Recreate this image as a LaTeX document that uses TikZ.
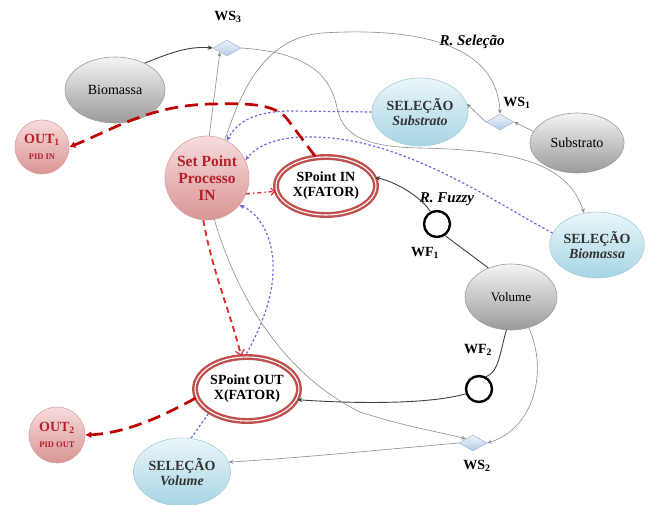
\documentclass[tikz,border=0pt]{standalone}
\usepackage{fontspec}
\setmainfont{Liberation Serif}
\usetikzlibrary{shapes.geometric,arrows.meta,backgrounds}
\definecolor{spred}{HTML}{C0504D}
\definecolor{darkred}{HTML}{B3202A}
\definecolor{pinktop}{HTML}{F7DCDC}
\definecolor{pinkbot}{HTML}{D99494}
\definecolor{pinkdraw}{HTML}{D9A3A3}
\definecolor{bluetop}{HTML}{EAF6FA}
\definecolor{bluebot}{HTML}{A6D5E4}
\definecolor{bluedraw}{HTML}{A9CCD9}
\definecolor{graytop}{HTML}{F4F4F4}
\definecolor{graybot}{HTML}{9A9A9A}
\definecolor{graydraw}{HTML}{9C9C9C}
\definecolor{dmtop}{HTML}{EEF3FA}
\definecolor{dmbot}{HTML}{B4CBE6}
\definecolor{dmdraw}{HTML}{A0B8D4}
\definecolor{bluedash}{HTML}{6B6BE0}
\definecolor{reddash}{HTML}{C00000}
\definecolor{redmid}{HTML}{E02828}
\begin{document}
\begin{tikzpicture}[x=1pt,y=-1pt,
  grayell/.style={ellipse, draw=graydraw, line width=0.6pt, top color=graytop, bottom color=graybot, inner sep=0pt, font=\fontsize{14}{16}\selectfont},
  blueell/.style={ellipse, draw=bluedraw, line width=0.6pt, top color=bluetop, bottom color=bluebot, inner sep=0pt, align=center, text=black!80, font=\fontsize{14}{15}\selectfont},
  redcirc/.style={circle, draw=pinkdraw, line width=0.6pt, top color=pinktop, bottom color=pinkbot, inner sep=0pt, align=center, text=darkred, font=\bfseries\fontsize{14}{15}\selectfont},
  spell/.style={ellipse, draw=spred, line width=2.4pt, double=white, double distance=1.1pt, fill=white, inner sep=0pt, align=center, font=\bfseries\fontsize{14}{15}\selectfont},
  wsdiam/.style={diamond, draw=dmdraw, line width=0.5pt, top color=dmtop, bottom color=dmbot, inner sep=0pt, minimum width=28pt, minimum height=16pt},
  wfcirc/.style={circle, draw=black, line width=2.4pt, fill=white, inner sep=0pt, minimum size=26pt},
  lbl/.style={inner sep=0pt, font=\bfseries\fontsize{14}{16}\selectfont},
  rlbl/.style={inner sep=0pt, font=\bfseries\itshape\fontsize{15}{17}\selectfont},
  grayarr/.style={draw=black!45, line width=0.6pt, -{Stealth[length=4.5pt,width=4pt]}},
  darkarr/.style={draw=black!75, line width=0.9pt, -{Stealth[length=5pt,width=4.5pt]}},
  darkline/.style={draw=black!75, line width=0.9pt},
  bluearr/.style={draw=bluedash, line width=1.2pt, dash pattern=on 2.4pt off 2.2pt, -{Stealth[length=5pt,width=4.5pt]}},
  redthick/.style={draw=reddash, line width=2.7pt, dash pattern=on 13pt off 7pt, -{Latex[length=6pt,width=7pt]}},
  redmidarr/.style={draw=redmid, line width=1.8pt, dash pattern=on 6pt off 4pt, -{Straight Barb[length=5pt,width=9pt,line width=1.2pt]}},
  reddot/.style={draw=redmid, line width=1.4pt, dash pattern=on 4pt off 3pt on 1.2pt off 3pt, -{Straight Barb[length=4pt,width=7pt,line width=1.1pt]}}
]
\useasboundingbox (0,0) rectangle (650,505);

% nodes
\node[grayell, minimum width=100pt, minimum height=66pt] (bio) at (115,90) {Biomassa};
\node[grayell, minimum width=94pt, minimum height=60pt] (subs) at (577,143) {Substrato};
\node[grayell, minimum width=92pt, minimum height=66pt, font=\fontsize{13}{15}\selectfont] (vol) at (511,297) {Volume};
\node[blueell, minimum width=96pt, minimum height=68pt] (sels) at (420,112) {\textbf{SELEÇÃO}\\\textbf{\itshape Substrato}};
\node[blueell, minimum width=92pt, minimum height=66pt] (selb) at (597,245) {\textbf{SELEÇÃO}\\\textbf{\itshape Biomassa}};
\node[blueell, minimum width=97pt, minimum height=68pt] (selv) at (182,472) {\textbf{SELEÇÃO}\\\textbf{\itshape Volume}};
\node[redcirc, minimum size=54pt] (out1) at (42,147) {OUT\textsubscript{1}\\[1pt]{\fontsize{8.5}{9}\selectfont PID IN}};
\node[redcirc, minimum size=56pt] (out2) at (57,435) {OUT\textsubscript{2}\\[1pt]{\fontsize{8.5}{9}\selectfont PID OUT}};
\node[redcirc, minimum size=84pt, font=\bfseries\fontsize{15.5}{17}\selectfont] (sp) at (207,178) {Set Point\\Processo\\IN};
\node[spell, minimum width=100pt, minimum height=58pt] (spin) at (326,186) {SPoint IN\\X(FATOR)};
\node[spell, minimum width=96pt, minimum height=64pt] (spout) at (247,389) {SPoint OUT\\X(FATOR)};
\node[wsdiam] (ws3) at (227,48) {};
\node[wsdiam] (ws1) at (500,122) {};
\node[wsdiam] (ws2) at (473,443) {};
\node[wfcirc] (wf1) at (437,224) {};
\node[wfcirc] (wf2) at (479,389) {};

% labels
\node[lbl] (lws3) at (228,17) {WS\textsubscript{3}};
\node[lbl] (lws1) at (517,103) {WS\textsubscript{1}};
\node[lbl] (lws2) at (477,466) {WS\textsubscript{2}};
\node[lbl] (lwf1) at (425,253) {WF\textsubscript{1}};
\node[lbl] (lwf2) at (478,350) {WF\textsubscript{2}};
\node[rlbl] (lrsel) at (472,42) {R. Seleção};
\node[rlbl] (lrfuz) at (447,199) {R. Fuzzy};

% connector passing behind SPoint OUT
\begin{pgfonlayer}{background}
\fill[white] (0,0) rectangle (650,505);
\draw[bluearr] (selv.75) .. controls (232,380) and (276,320) .. (273,262) .. controls (271,230) and (256,212) .. (sp.-40);
\end{pgfonlayer}

% gray connectors
\draw[darkarr] (bio.42) .. controls (172,52) and (190,46) .. (ws3.west);
\draw[grayarr] (ws3.east) .. controls (300,52) and (330,70) .. (337,108) .. controls (343,138) and (370,147) .. (420,148) .. controls (520,150) and (568,165) .. (selb.112);
\draw[grayarr] (sp.65) .. controls (240,95) and (262,38) .. (322,33) .. controls (420,27) and (497,45) .. (ws1.north);
\draw[grayarr] (sp.87) -- (ws3.south west);
\draw[grayarr] (subs.165) -- (ws1.east);
\draw[grayarr] (ws1.west) -- (sels.10);
\draw[grayarr] (sp.-80) .. controls (238,300) and (285,375) .. (360,412) .. controls (410,428) and (445,433) .. (ws2.north west);
\draw[grayarr] (vol.-60) .. controls (548,370) and (535,428) .. (ws2.east);
\draw[grayarr] (ws2.west) .. controls (400,448) and (300,458) .. (selv.12);

% black fuzzy connectors
\draw[darkline] (vol.-98) .. controls (500,352) and (499,372) .. (wf2.60);
\draw[darkarr] (wf2.200) .. controls (430,404) and (360,404) .. (spout.-12);
\draw[darkline] (vol.128) -- (wf1.-55);
\draw[darkarr] (wf1.118) .. controls (420,196) and (396,182) .. (spin.10);

% blue dotted
\draw[bluearr] (sels.west) -- (292,111) .. controls (258,111) and (238,120) .. (sp.62);
\draw[bluearr] (selb.165) .. controls (500,205) and (420,150) .. (340,139) .. controls (292,133) and (262,140) .. (sp.25);

% red
\draw[redthick] (spin.110) -- (288,120) .. controls (276,104) and (250,103) .. (212,104) .. controls (150,105) and (112,130) .. (out1.east);
\draw[redthick] (spout.190) .. controls (170,412) and (130,433) .. (out2.east);
\draw[reddot] (sp.-22) -- (spin.186);
\draw[redmidarr] (sp.265) .. controls (212,270) and (230,312) .. (spout.100);
\end{tikzpicture}
\end{document}
